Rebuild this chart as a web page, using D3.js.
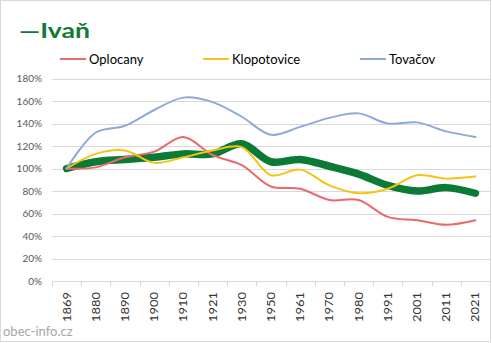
<!DOCTYPE html>
<html>
<head>
<meta charset="utf-8">
<script src="https://cdn.jsdelivr.net/npm/d3@7"></script>
<style>
  body { margin: 0; background: #fff; }
  svg { display: block; font-family: Lato, "Liberation Sans", sans-serif; }
</style>
</head>
<body>
<div id="container"></div>
<script>
// Data (index, 1869 = 100 %)
var years = ["1869", "1880", "1890", "1900", "1910", "1921", "1930", "1950", "1961", "1970", "1980", "1991", "2001", "2011", "2021"];
var ivan = [100, 106, 108, 110, 113, 113, 122, 106, 108, 102, 95, 85, 80, 83, 78];
var oplocany = [100, 101, 110, 115, 128, 112, 103, 84, 82, 72, 72, 57, 54, 50, 54];
var klopotovice = [100, 113, 116, 105, 110, 116, 119, 94, 99, 85, 78, 82, 94, 91, 93];
var tovacov = [100, 132, 138, 152, 163, 159, 146, 130, 137, 145, 149, 140, 141, 133, 128];
var yTicks = [0, 20, 40, 60, 80, 100, 120, 140, 160, 180];

var width = 492;
var height = 343;
var margin = {top: 78.5, right: 2, bottom: 62, left: 52};

var svg = d3.select("#container")
            .append("svg")
            .attr("width", width)
            .attr("height", height);

// Chart border
svg.append("rect")
   .attr("x", 0.5).attr("y", 0.5)
   .attr("width", width - 2).attr("height", height - 2)
   .attr("fill", "#fff")
   .attr("stroke", "#d9d9d9");

// Title
svg.append("text")
   .attr("x", 19)
   .attr("y", 37.5)
   .attr("fill", "#0f7a3a")
   .attr("textLength", 71)
   .attr("lengthAdjust", "spacingAndGlyphs")
   .style("font-size", "21.5px")
   .style("font-weight", "bold")
   .text("\u2014Ivaň");

// Scales
var x = d3.scaleBand()
          .domain(years)
          .range([margin.left, width - margin.right]);
var y = d3.scaleLinear()
          .domain([0, 180])
          .range([height - margin.bottom, margin.top]);

// Gridlines
svg.append("g")
   .selectAll("line")
   .data(yTicks.slice(1))
   .enter().append("line")
   .attr("x1", margin.left)
   .attr("x2", width - margin.right)
   .attr("y1", function(d) { return Math.round(y(d)) + 0.5; })
   .attr("y2", function(d) { return Math.round(y(d)) + 0.5; })
   .attr("stroke", "#d9d9d9");

// Y axis labels
svg.append("g")
   .selectAll("text")
   .data(yTicks)
   .enter().append("text")
   .attr("x", 42)
   .attr("y", function(d) { return y(d) + 3.5; })
   .attr("text-anchor", "end")
   .attr("fill", "#595959")
   .style("font-size", "10px")
   .text(function(d) { return d + "%"; });

// X axis with tick marks between categories
var xAxis = svg.append("g")
   .attr("transform", "translate(0," + (Math.round(y(0)) + 0.5) + ")");
xAxis.append("line")
   .attr("x1", margin.left).attr("x2", width - margin.right)
   .attr("stroke", "#d9d9d9");
xAxis.selectAll(".tick")
   .data(years)
   .enter().append("line")
   .attr("x1", function(d) { return Math.round(x(d)) + 0.5; })
   .attr("x2", function(d) { return Math.round(x(d)) + 0.5; })
   .attr("y1", 0).attr("y2", 5)
   .attr("stroke", "#d9d9d9");
xAxis.selectAll("text")
   .data(years)
   .enter().append("text")
   .attr("transform", function(d) {
     return "translate(" + (x(d) + x.bandwidth() / 2 + 4) + ",10.5) rotate(-90)";
   })
   .attr("text-anchor", "end")
   .attr("fill", "#333")
   .attr("textLength", 30)
   .attr("lengthAdjust", "spacingAndGlyphs")
   .style("font-size", "11.5px")
   .text(function(d) { return d; });

// Lines
var line = d3.line()
   .x(function(d, i) { return x(years[i]) + x.bandwidth() / 2; })
   .y(function(d) { return y(d); })
   .curve(d3.curveCatmullRom.alpha(0.5));

var series = [
  {name: "Ivaň", values: ivan, color: "#0b7a35", width: 7.5},
  {name: "Oplocany", values: oplocany, color: "#ea6a6b", width: 2},
  {name: "Klopotovice", values: klopotovice, color: "#f5c314", width: 2},
  {name: "Tovačov", values: tovacov, color: "#8fa9da", width: 2}
];

svg.append("g")
   .selectAll("path")
   .data(series)
   .enter().append("path")
   .attr("d", function(d) { return line(d.values); })
   .attr("fill", "none")
   .attr("stroke", function(d) { return d.color; })
   .attr("stroke-width", function(d) { return d.width; })
   .attr("stroke-linecap", "round")
   .attr("stroke-linejoin", "round");

// Legend
var legendX = [60, 203, 360];
var legend = svg.append("g")
   .selectAll("g")
   .data(series.slice(1))
   .enter().append("g")
   .attr("transform", function(d, i) { return "translate(" + legendX[i] + ",59)"; });
legend.append("line")
   .attr("x1", 0).attr("x2", 26)
   .attr("stroke", function(d) { return d.color; })
   .attr("stroke-width", 2);
legend.append("text")
   .attr("x", 29)
   .attr("y", 4.5)
   .attr("fill", "#000")
   .style("font-size", "13px")
   .text(function(d) { return d.name; });

// Source
svg.append("text")
   .attr("x", 3)
   .attr("y", 336)
   .attr("fill", "#a6a6a6")
   .style("font-size", "13px")
   .text("obec-info.cz");
</script>
</body>
</html>
